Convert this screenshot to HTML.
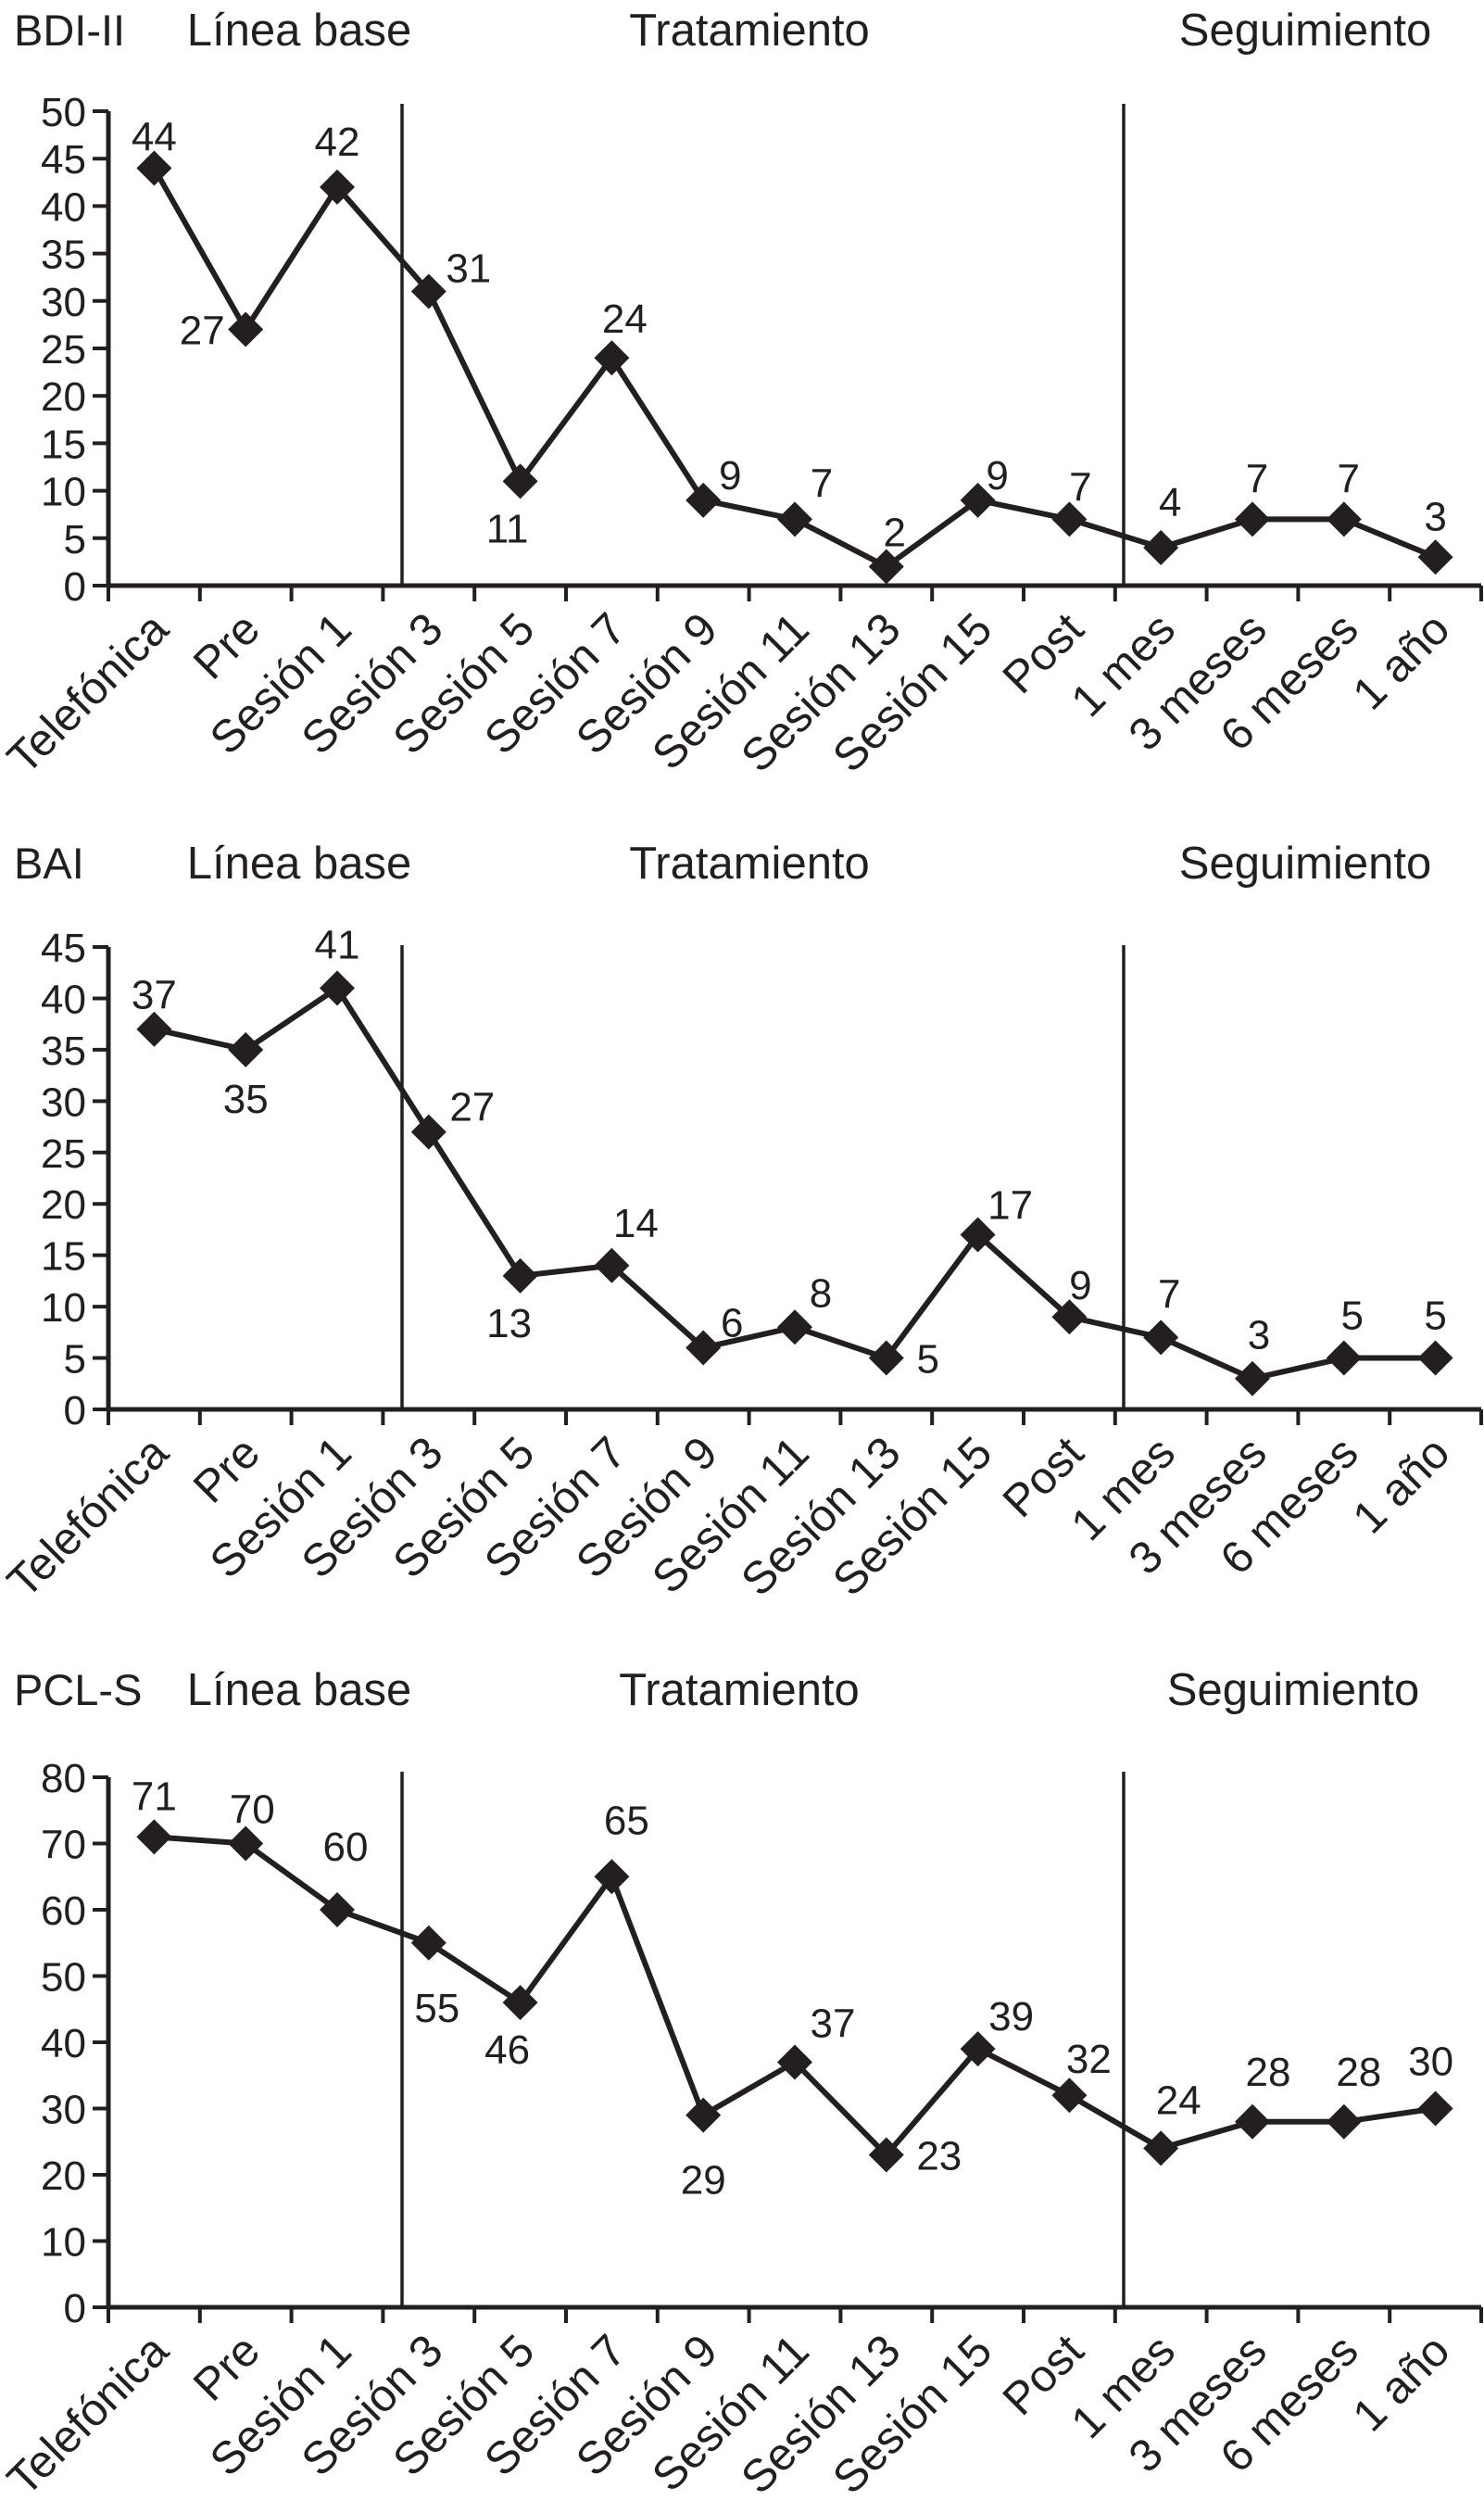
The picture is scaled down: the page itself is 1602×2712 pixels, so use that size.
<!DOCTYPE html>
<html><head><meta charset="utf-8"><style>
html,body{margin:0;padding:0;background:#fff;}
svg{display:block;}
text{font-family:"Liberation Sans",Arial,sans-serif;fill:#231f20;}
</style></head><body>
<svg id="fig" width="1602" height="2712" viewBox="0 0 1602 2712" xmlns="http://www.w3.org/2000/svg"></svg>
<script>
const categories = ["Telefónica","Pre","Sesión 1","Sesión 3","Sesión 5","Sesión 7","Sesión 9","Sesión 11","Sesión 13","Sesión 15","Post","1 mes","3 meses","6 meses","1 año"];
const bdiValues = [44,27,42,31,11,24,9,7,2,9,7,4,7,7,3];
const baiValues = [37,35,41,27,13,14,6,8,5,17,9,7,3,5,5];
const pclValues = [71,70,60,55,46,65,29,37,23,39,32,24,28,28,30];
const bdiTicks = [0,5,10,15,20,25,30,35,40,45,50];
const baiTicks = [0,5,10,15,20,25,30,35,40,45];
const pclTicks = [0,10,20,30,40,50,60,70,80];

const NS="http://www.w3.org/2000/svg";
const svg=document.getElementById('fig');
function el(tag,attrs,parent){const e=document.createElementNS(NS,tag);for(const k in attrs)e.setAttribute(k,attrs[k]);(parent||svg).appendChild(e);return e;}

const X0=117, X1=1599, N=categories.length, STEP=(X1-X0)/N;
function xPos(i){return X0+STEP*(i+0.5);}

function drawChart(cfg){
  const g=el('g',{});
  
  
  const ymax=cfg.ticks[cfg.ticks.length-1];
  const yPos=v=>cfg.y0-(v/ymax)*(cfg.y0-cfg.yTop);
  const t1=el('text',{x:15,y:cfg.titleY,'font-size':47},g);t1.textContent=cfg.title;
  
  const tt=[["Línea base",323],["Tratamiento",cfg.tratX],["Seguimiento",cfg.segX]];
  tt.forEach(([s,cx])=>{const t=el('text',{x:cx,y:cfg.titleY,'font-size':49,'text-anchor':'middle'},g);t.textContent=s;
    });
  const ax=el('line',{x1:X0,y1:yPos(ymax),x2:X0,y2:cfg.y0+2,stroke:'#231f20','stroke-width':5},g);
  
  const bx=el('line',{x1:X0-2,y1:cfg.y0,x2:X1,y2:cfg.y0,stroke:'#231f20','stroke-width':5},g);
  
  cfg.ticks.forEach(v=>{
    el('line',{x1:X0-17,y1:yPos(v),x2:X0,y2:yPos(v),stroke:'#231f20','stroke-width':4},g);
    const t=el('text',{x:X0-24,y:yPos(v)+16,'font-size':44,'text-anchor':'end'},g);t.textContent=v;
    
  });
  for(let i=0;i<=N;i++){el('line',{x1:X0+STEP*i,y1:cfg.y0,x2:X0+STEP*i,y2:cfg.y0+17,stroke:'#231f20','stroke-width':4},g);}
  categories.forEach((c,i)=>{
    const x=xPos(i)+18,y=cfg.y0+50;
    const t=el('text',{x:x,y:y,'font-size':49,'text-anchor':'end',transform:`rotate(-45 ${x} ${y})`},g);t.textContent=c;
    
  });
  [434,1213].forEach(x=>{const l=el('line',{x1:x,y1:cfg.vTop,x2:x,y2:cfg.y0,stroke:'#231f20','stroke-width':3.5},g);
    });
  const pts=cfg.values.map((v,i)=>xPos(i)+','+yPos(v)).join(' ');
  const pl=el('polyline',{points:pts,fill:'none',stroke:'#231f20','stroke-width':6,'stroke-linejoin':'miter'},g);
  
  cfg.values.forEach((v,i)=>{
    const x=xPos(i),y=yPos(v),r=19;
    const d=el('polygon',{points:`${x},${y-r} ${x+r},${y} ${x},${y+r} ${x-r},${y}`,fill:'#231f20'},g);
    
    const o=cfg.offsets[i];
    const t=el('text',{x:x+o[0],y:y+o[1]+16,'font-size':44,'text-anchor':'middle'},g);t.textContent=v;
    
  });
}

drawChart({name:'bdi',title:'BDI-II',values:bdiValues,ticks:bdiTicks,y0:632,yTop:120,titleY:49,vTop:112,tratX:809,segX:1409,
  offsets:[[0,-35],[-47,0],[0,-50],[43,-26],[-14,50],[14,-43],[29,-28],[29,-40],[9,-38],[21,-28],[12,-36],[10,-50],[5,-45],[5,-45],[0,-45]]});
drawChart({name:'bai',title:'BAI',values:baiValues,ticks:baiTicks,y0:1521,yTop:1022,titleY:948,vTop:1020,tratX:809,segX:1409,
  offsets:[[0,-38],[0,52],[0,-48],[47,-28],[-12,50],[26,-47],[31,-28],[28,-38],[45,0],[35,-33],[12,-35],[9,-48],[7,-48],[9,-47],[0,-47]]});
drawChart({name:'pcl',title:'PCL-S',values:pclValues,ticks:pclTicks,y0:2490,yTop:1918,titleY:1840,vTop:1912,tratX:798,segX:1396,
  offsets:[[0,-45],[7,-38],[9,-69],[9,69],[-14,50],[16,-62],[0,69],[41,-43],[57,0],[36,-36],[21,-40],[19,-53],[17,-55],[16,-55],[-5,-52]]});
</script>
</body></html>
